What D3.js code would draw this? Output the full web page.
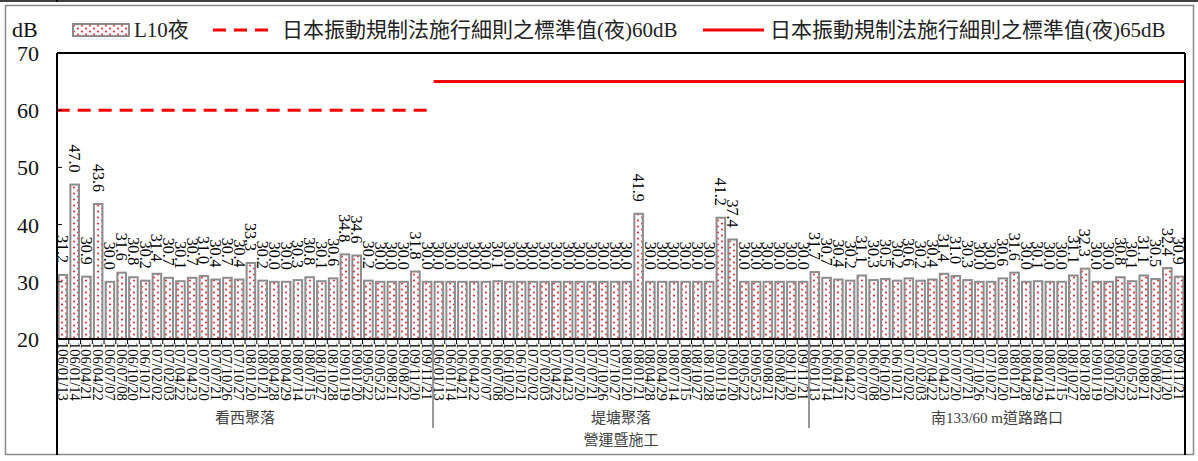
<!DOCTYPE html>
<html>
<head>
<meta charset="utf-8">
<script src="https://cdn.jsdelivr.net/npm/d3@7"></script>
<style>
  body { margin: 0; background: #fff; }
  svg text { font-family: "Liberation Serif", "Noto Sans CJK TC", serif; }
</style>
</head>
<body>
<div id="chart"></div>
<script>
var W = 1198, H = 461

// data
var dates = ["106/01/13","106/01/14","106/04/21","106/04/22","106/07/07","106/07/08","106/10/20","106/10/21",
  "107/02/02","107/02/03","107/04/22","107/04/23","107/07/20","107/07/21","107/10/26","107/10/27",
  "108/01/20","108/01/21","108/04/28","108/04/29","108/07/14","108/07/15","108/10/27","108/10/28",
  "109/01/19","109/01/20","109/05/22","109/05/23","109/08/21","109/08/22","109/11/20","109/11/21"]
var sites = ["看西聚落", "堤塘聚落", "南133/60 m道路路口"]
var phase = "營運暨施工"
var site1 = [31.2,47.0,30.9,43.6,30.0,31.6,30.8,30.2,31.4,30.7,30.1,30.7,31.0,30.4,30.7,30.4,
  33.3,30.2,30.0,30.0,30.3,30.8,30.1,30.6,34.8,34.6,30.2,30.0,30.0,30.0,31.8,30.0]
var site2 = [30.0,30.0,30.0,30.0,30.0,30.1,30.0,30.0,30.0,30.0,30.0,30.0,30.0,30.0,30.0,30.0,
  30.0,41.9,30.0,30.0,30.0,30.0,30.0,30.0,41.2,37.4,30.0,30.0,30.0,30.0,30.0,30.0]
var site3 = [31.7,30.7,30.4,30.2,31.1,30.3,30.5,30.2,30.6,30.2,30.4,31.4,31.0,30.3,30.0,30.0,
  30.6,31.6,30.0,30.1,30.0,30.0,31.1,32.3,30.0,30.0,30.8,30.1,31.1,30.5,32.4,30.9]
var limit60 = 60   // applies to site 1
var limit65 = 65   // applies to sites 2 and 3
var yTicks = [20, 30, 40, 50, 60, 70]
var legendNames = ["L10夜", "日本振動規制法施行細則之標準值(夜)60dB", "日本振動規制法施行細則之標準值(夜)65dB"]

var allVals = [site1, site2, site3]
var rows = []
allVals.forEach(function(arr, g){
  arr.forEach(function(v, i){
    rows.push({key: g + "|" + dates[i], group: g, date: dates[i], value: v})
  })
})

var pLeft = 57, pRight = 1185, pTop = 53, pBottom = 339

var svg = d3.select("#chart").append("svg").attr("width", W).attr("height", H)

var defs = svg.append("defs")
var pat = defs.append("pattern").attr("id", "dots")
  .attr("patternUnits", "userSpaceOnUse").attr("width", 8).attr("height", 6)
pat.append("rect").attr("width", 8).attr("height", 6).attr("fill", "#fff")
pat.append("circle").attr("cx", 2).attr("cy", 1.5).attr("r", 1).attr("fill", "#ff1a1a")
pat.append("circle").attr("cx", 6).attr("cy", 4.5).attr("r", 1).attr("fill", "#ff1a1a")

// remnants of the frame above
svg.append("line").attr("x1", 0).attr("x2", W).attr("y1", 1).attr("y2", 1).attr("stroke", "#000").attr("stroke-width", 1.5)
svg.append("line").attr("x1", 57).attr("x2", 57).attr("y1", 0).attr("y2", 2).attr("stroke", "#000").attr("stroke-width", 1.5)

// outer frame
svg.append("rect").attr("x", 5.5).attr("y", 5.5).attr("width", 1188).attr("height", 449)
  .attr("fill", "none").attr("stroke", "#8a8a8a").attr("stroke-width", 1.5)

var x = d3.scaleBand().domain(rows.map(function(d){ return d.key }))
  .range([pLeft, pRight]).paddingInner(0.27).paddingOuter(0.14)
var y = d3.scaleLinear().domain([20, 70]).range([pBottom, pTop])
var step = x.step()

// bars
svg.selectAll("rect.bar").data(rows).enter().append("rect")
  .attr("class", "bar")
  .attr("x", function(d){ return x(d.key) })
  .attr("y", function(d){ return y(d.value) })
  .attr("width", x.bandwidth())
  .attr("height", function(d){ return y(20) - y(d.value) })
  .attr("fill", "url(#dots)")
  .attr("stroke", "#8c8c8c")
  .attr("stroke-width", 2)

// value labels, rotated
var labGap = 12
svg.selectAll("text.val").data(rows).enter().append("text")
  .attr("class", "val")
  .attr("x", function(d){ return x(d.key) + x.bandwidth()/2 })
  .attr("y", function(d){ return y(d.value) - labGap })
  .attr("dy", "0.35em")
  .attr("text-anchor", "end")
  .attr("font-size", 16)
  .attr("fill", "#000")
  .attr("transform", function(d){ return "rotate(90," + (x(d.key) + x.bandwidth()/2) + "," + (y(d.value) - labGap) + ")" })
  .text(function(d){ return d.value.toFixed(1) })

// limit lines
var lineGen = d3.line().x(function(d){ return d[0] }).y(function(d){ return y(d[1]) })
var g1 = rows.filter(function(d){ return d.group == 0 })
var g23 = rows.filter(function(d){ return d.group > 0 })
svg.append("path")
  .attr("d", lineGen([[x(g1[0].key) - 2, limit60], [x(g1[g1.length-1].key) + x.bandwidth(), limit60]]))
  .attr("stroke", "#ff0000").attr("stroke-width", 3).attr("fill", "none")
  .attr("stroke-dasharray", "13,8")
svg.append("path")
  .attr("d", lineGen([[x(g23[0].key) - 1, limit65], [x(g23[g23.length-1].key) + x.bandwidth() + 1, limit65]]))
  .attr("stroke", "#ff0000").attr("stroke-width", 3).attr("fill", "none")

// plot box
svg.append("line").attr("x1", pLeft).attr("x2", pRight).attr("y1", pTop).attr("y2", pTop).attr("stroke", "#000").attr("stroke-width", 2)
svg.append("line").attr("x1", pRight).attr("x2", pRight).attr("y1", pTop).attr("y2", 455).attr("stroke", "#000").attr("stroke-width", 2)
svg.append("line").attr("x1", pLeft).attr("x2", pLeft).attr("y1", pTop).attr("y2", 455).attr("stroke", "#000").attr("stroke-width", 2)
svg.append("line").attr("x1", pLeft).attr("x2", pRight).attr("y1", pBottom).attr("y2", pBottom).attr("stroke", "#000").attr("stroke-width", 2)

// y axis ticks
svg.selectAll("line.yt").data(yTicks.slice(1, -1)).enter().append("line")
  .attr("x1", pLeft).attr("x2", pLeft + 5)
  .attr("y1", function(d){ return y(d) }).attr("y2", function(d){ return y(d) })
  .attr("stroke", "#000").attr("stroke-width", 1)
svg.selectAll("text.yl").data(yTicks).enter().append("text")
  .attr("x", 39).attr("y", function(d){ return y(d) }).attr("dy", "0.36em")
  .attr("text-anchor", "end").attr("font-size", 22).attr("fill", "#111")
  .text(function(d){ return d })
svg.append("text").attr("x", 12).attr("y", 37).attr("font-size", 22).attr("fill", "#111").text("dB")

// x category ticks
svg.selectAll("line.xt").data(rows).enter().append("line")
  .attr("x1", function(d){ return x(d.key) - step*x.paddingInner()/2 })
  .attr("x2", function(d){ return x(d.key) - step*x.paddingInner()/2 })
  .attr("y1", pBottom).attr("y2", pBottom + 5)
  .attr("stroke", "#000").attr("stroke-width", 1)

// date labels
svg.selectAll("text.dt").data(rows).enter().append("text")
  .attr("class", "dt")
  .attr("x", function(d){ return x(d.key) + x.bandwidth()/2 })
  .attr("y", pBottom + 3)
  .attr("dy", "0.35em")
  .attr("font-size", 14.5)
  .attr("fill", "#000")
  .attr("transform", function(d){ return "rotate(90," + (x(d.key) + x.bandwidth()/2) + "," + (pBottom + 3) + ")" })
  .text(function(d){ return d.date })

// group separators and labels
sites.forEach(function(s, g){
  var first = rows.filter(function(d){ return d.group == g })
  var x0 = x(first[0].key) - step*x.paddingInner()/2
  var x1 = x(first[first.length-1].key) + x.bandwidth() + step*x.paddingInner()/2
  if (g == 0) x0 = pLeft
  if (g == 2) x1 = pRight
  if (g > 0) {
    svg.append("line").attr("x1", x0).attr("x2", x0).attr("y1", pBottom).attr("y2", 428)
      .attr("stroke", "#555").attr("stroke-width", 1.2)
  }
  svg.append("text").attr("x", (x0 + x1)/2).attr("y", 423)
    .attr("text-anchor", "middle").attr("font-size", 15).attr("fill", "#404040").text(s)
})
svg.append("text").attr("x", (pLeft + pRight)/2).attr("y", 445)
  .attr("text-anchor", "middle").attr("font-size", 15).attr("fill", "#404040").text(phase)

// legend
var lg = svg.append("g")
lg.append("rect").attr("x", 73).attr("y", 24).attr("width", 56).attr("height", 12)
  .attr("fill", "url(#dots)").attr("stroke", "#8c8c8c").attr("stroke-width", 2)
lg.append("text").attr("x", 134).attr("y", 37).attr("font-size", 21).attr("fill", "#222").text(legendNames[0])
lg.append("line").attr("x1", 213).attr("x2", 274).attr("y1", 30).attr("y2", 30)
  .attr("stroke", "#ff0000").attr("stroke-width", 3).attr("stroke-dasharray", "13,8")
lg.append("text").attr("x", 282).attr("y", 37).attr("font-size", 21).attr("fill", "#222").text(legendNames[1])
lg.append("line").attr("x1", 703).attr("x2", 764).attr("y1", 30).attr("y2", 30)
  .attr("stroke", "#ff0000").attr("stroke-width", 3)
lg.append("text").attr("x", 770).attr("y", 37).attr("font-size", 21).attr("fill", "#222").text(legendNames[2])
</script>
</body>
</html>
